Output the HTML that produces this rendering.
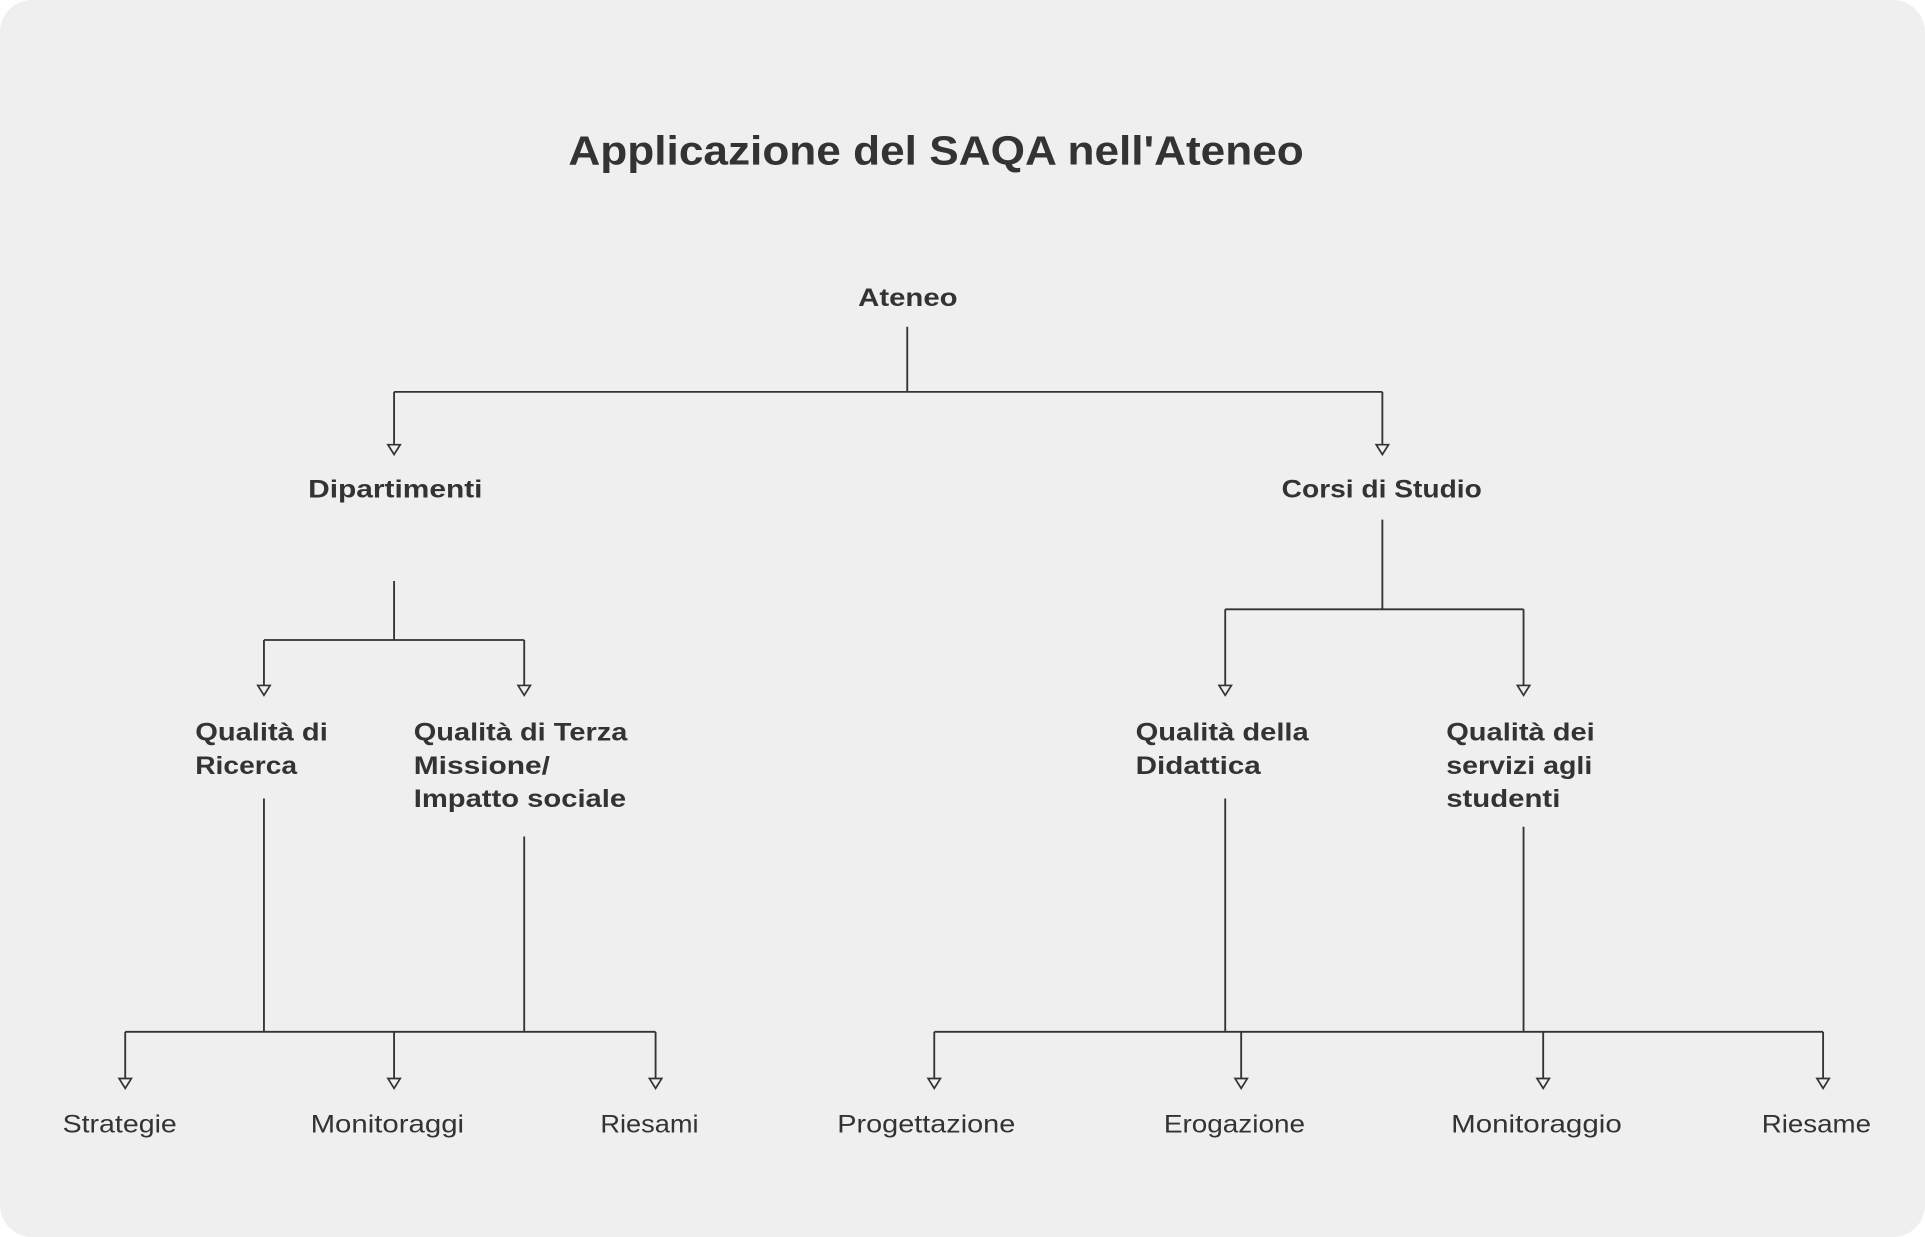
<!DOCTYPE html>
<html><head><meta charset="utf-8"><style>
html,body{margin:0;padding:0;background:#fff;}
svg{display:block;}
text{font-family:"Liberation Sans",sans-serif;fill:#333;}
.b{font-weight:bold;font-size:20px;}
.r{font-size:20px;}
</style></head><body>
<svg width="1925" height="1237" viewBox="0 0 1568 1007" preserveAspectRatio="none">
<rect x="0" y="0" width="1568" height="1007" rx="26" fill="#efefef"/>
<text x="463" y="134" font-size="33" font-weight="bold" style="font-size:33px" textLength="599" lengthAdjust="spacingAndGlyphs">Applicazione del SAQA nell'Ateneo</text>
<g stroke="#333" stroke-width="1.5" fill="none">
<path d="M739 266V319M321 319H1126M321 319V364M1126 319V364"/>
<path d="M321 473V521M215 521H427M215 521V560M427 521V560"/>
<path d="M1126 423V496M998 496H1241M998 496V560M1241 496V560"/>
<path d="M215 650V840M427 681V840M102 840H534M102 840V880M321 840V880M534 840V880"/>
<path d="M998 650V840M1241 673V840M761 840H1485M761 840V880M1011 840V880M1257 840V880M1485 840V880"/>
</g>
<g stroke="#333" stroke-width="1.4" fill="#efefef">
<polygon points="316,362 326,362 321,370"/><polygon points="1121,362 1131,362 1126,370"/>
<polygon points="210,558 220,558 215,566"/><polygon points="422,558 432,558 427,566"/>
<polygon points="993,558 1003,558 998,566"/><polygon points="1236,558 1246,558 1241,566"/>
<polygon points="97,878 107,878 102,886"/><polygon points="316,878 326,878 321,886"/><polygon points="529,878 539,878 534,886"/>
<polygon points="756,878 766,878 761,886"/><polygon points="1006,878 1016,878 1011,886"/><polygon points="1252,878 1262,878 1257,886"/><polygon points="1480,878 1490,878 1485,886"/>
</g>
<g lengthAdjust="spacingAndGlyphs">
<text class="b" x="699" y="249" textLength="81" lengthAdjust="spacingAndGlyphs">Ateneo</text>
<text class="b" x="251" y="405" textLength="142" lengthAdjust="spacingAndGlyphs">Dipartimenti</text>
<text class="b" x="1044" y="405" textLength="163" lengthAdjust="spacingAndGlyphs">Corsi di Studio</text>
<text class="b" x="159" y="603" textLength="108" lengthAdjust="spacingAndGlyphs">Qualità di</text><text class="b" x="159" y="630" textLength="83" lengthAdjust="spacingAndGlyphs">Ricerca</text>
<text class="b" x="337" y="603" textLength="174" lengthAdjust="spacingAndGlyphs">Qualità di Terza</text><text class="b" x="337" y="630" textLength="111" lengthAdjust="spacingAndGlyphs">Missione/</text><text class="b" x="337" y="657" textLength="173" lengthAdjust="spacingAndGlyphs">Impatto sociale</text>
<text class="b" x="925" y="603" textLength="141" lengthAdjust="spacingAndGlyphs">Qualità della</text><text class="b" x="925" y="630" textLength="102" lengthAdjust="spacingAndGlyphs">Didattica</text>
<text class="b" x="1178" y="603" textLength="121" lengthAdjust="spacingAndGlyphs">Qualità dei</text><text class="b" x="1178" y="630" textLength="119" lengthAdjust="spacingAndGlyphs">servizi agli</text><text class="b" x="1178" y="657" textLength="93" lengthAdjust="spacingAndGlyphs">studenti</text>
<text class="r" x="51" y="922" textLength="93" lengthAdjust="spacingAndGlyphs">Strategie</text>
<text class="r" x="253" y="922" textLength="125" lengthAdjust="spacingAndGlyphs">Monitoraggi</text>
<text class="r" x="489" y="922" textLength="80" lengthAdjust="spacingAndGlyphs">Riesami</text>
<text class="r" x="682" y="922" textLength="145" lengthAdjust="spacingAndGlyphs">Progettazione</text>
<text class="r" x="948" y="922" textLength="115" lengthAdjust="spacingAndGlyphs">Erogazione</text>
<text class="r" x="1182" y="922" textLength="139" lengthAdjust="spacingAndGlyphs">Monitoraggio</text>
<text class="r" x="1435" y="922" textLength="89" lengthAdjust="spacingAndGlyphs">Riesame</text>
</g>
</svg>
</body></html>
